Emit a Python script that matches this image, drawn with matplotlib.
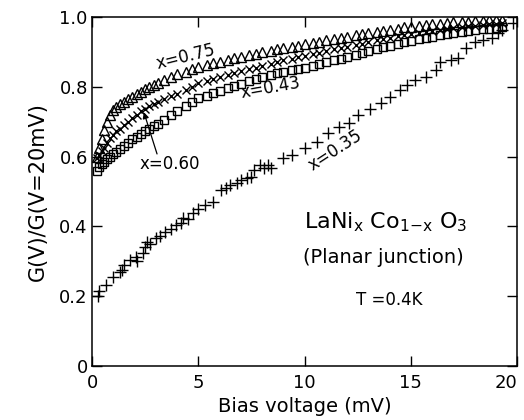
import numpy as np
import matplotlib
matplotlib.use('Agg')  # no display
import matplotlib.pyplot as plt

# bias voltage grid (mV) shared by the three upper curves
bias = [0.25, 0.35, 0.45, 0.55, 0.7, 0.85, 1.0, 1.15, 1.3, 1.5, 1.7, 1.9, 2.1, 2.3,
        2.5, 2.7, 2.9, 3.1, 3.4, 3.7, 4.0, 4.4, 4.7,
        5.0, 5.4, 5.7, 6.0, 6.4, 6.7, 7.0, 7.4, 7.7, 8.0, 8.4, 8.7, 9.0, 9.4, 9.7,
        10.0, 10.4, 10.7, 11.0, 11.4, 11.7, 12.0, 12.4, 12.7, 13.0, 13.4, 13.7,
        14.0, 14.4, 14.7, 15.0, 15.4, 15.7, 16.0, 16.4, 16.7, 17.0, 17.4, 17.7,
        18.0, 18.4, 18.7, 19.0, 19.3]

# x = 0.75 (triangles)
g075 = [0.60, 0.625, 0.65, 0.675, 0.70, 0.72, 0.733, 0.743, 0.75, 0.757, 0.765,
        0.772, 0.779, 0.786, 0.793, 0.80, 0.806, 0.812, 0.82,
        0.828, 0.836, 0.843, 0.85, 0.856, 0.862, 0.867, 0.872, 0.877, 0.882, 0.886,
        0.891, 0.895, 0.899, 0.903, 0.907, 0.911, 0.915, 0.918, 0.922, 0.926, 0.929,
        0.933, 0.937, 0.94, 0.944, 0.948, 0.951, 0.954, 0.958, 0.961, 0.964, 0.967,
        0.97, 0.972, 0.975, 0.977, 0.979, 0.981, 0.983, 0.985, 0.986, 0.987, 0.988,
        0.989, 0.99, 0.991, 0.992]

# x = 0.43 (crosses)
g043 = [0.595, 0.605, 0.615, 0.625, 0.64, 0.652, 0.662, 0.672, 0.68, 0.69, 0.70,
        0.71, 0.72, 0.73, 0.737, 0.744, 0.75, 0.757, 0.765,
        0.773, 0.78, 0.79, 0.80, 0.812, 0.818, 0.823, 0.828, 0.834, 0.839, 0.844,
        0.85, 0.855, 0.86, 0.866, 0.871, 0.876, 0.881, 0.885, 0.889, 0.894, 0.898,
        0.902, 0.907, 0.911, 0.915, 0.92, 0.924, 0.928, 0.933, 0.937, 0.941, 0.945,
        0.948, 0.951, 0.954, 0.957, 0.96, 0.963, 0.966, 0.968, 0.971, 0.973, 0.975,
        0.977, 0.979, 0.98, 0.982]

# x = 0.60 (squares)
g060 = [0.56, 0.57, 0.578, 0.585, 0.592, 0.60, 0.607, 0.614, 0.621, 0.63, 0.64,
        0.649, 0.657, 0.665, 0.672, 0.68, 0.687, 0.694, 0.705,
        0.718, 0.73, 0.745, 0.757, 0.767, 0.775, 0.782, 0.789, 0.797, 0.803, 0.809,
        0.816, 0.822, 0.828, 0.834, 0.839, 0.843, 0.848, 0.851, 0.855, 0.86, 0.865,
        0.87, 0.876, 0.881, 0.886, 0.892, 0.897, 0.902, 0.908, 0.913, 0.918, 0.923,
        0.927, 0.932, 0.936, 0.94, 0.944, 0.948, 0.951, 0.954, 0.957, 0.96, 0.962,
        0.965, 0.967, 0.969, 0.971]

# x = 0.35 (plus signs)
bias035 = [0.3, 0.35, 0.65, 1.0, 1.3, 1.4, 1.5, 1.8, 2.05, 2.1, 2.4, 2.5, 2.6, 2.75,
           3.0, 3.2, 3.45, 3.7, 3.95, 4.2, 4.3, 4.5, 4.75, 5.0, 5.3, 5.7, 6.05, 6.3,
           6.5, 6.8, 7.0, 7.3, 7.5, 7.6, 7.9, 8.1, 8.3, 8.4,
           9.0, 9.4, 10.0, 10.6, 11.1, 11.6, 12.1, 12.5, 13.1, 13.6, 14.0, 14.5,
           14.8, 15.2, 15.7, 16.2, 16.4, 16.9, 17.2, 17.6, 18.0, 18.4, 18.8, 19.1,
           19.3, 19.8]
g035 = [0.2, 0.215, 0.232, 0.255, 0.27, 0.275, 0.29, 0.304, 0.313, 0.3, 0.323, 0.342,
        0.355, 0.35, 0.366, 0.372, 0.384, 0.393, 0.404, 0.41, 0.424, 0.42, 0.438,
        0.45, 0.46, 0.47, 0.504, 0.51, 0.519, 0.525, 0.533, 0.54, 0.542, 0.562,
        0.576, 0.567, 0.575, 0.567,
        0.596, 0.605, 0.625, 0.642, 0.668, 0.685, 0.696, 0.72, 0.735, 0.753, 0.77,
        0.79, 0.805, 0.82, 0.828, 0.848, 0.871, 0.877, 0.883, 0.91, 0.928, 0.934,
        0.94, 0.954, 0.963, 0.983]

x_ticks = [0, 5, 10, 15, 20]
y_ticks = [0, 0.2, 0.4, 0.6, 0.8, 1.0]
y_ticklabels = ['0', '0.2', '0.4', '0.6', '0.8', '1.0']

fig = plt.figure(figsize=(5.24, 4.2), dpi=100)
ax = fig.add_axes([92 / 524, 54 / 420, 425 / 524, 349 / 420])

style = dict(linestyle='none', color='k', markerfacecolor='none', markeredgewidth=1.0)
ax.plot(bias, g075, marker='^', markersize=7, **style)
ax.plot(bias, g043, marker='x', markersize=5.5, **style)
ax.plot(bias, g060, marker='s', markersize=6, **style)
ax.plot(bias035, g035, marker='+', markersize=8, **style)

ax.set_xlim(0, 20)
ax.set_ylim(0, 1.0)
ax.set_xticks(x_ticks)
ax.set_yticks(y_ticks)
ax.set_yticklabels(y_ticklabels)
ax.tick_params(direction='in', length=7, width=1, top=True, right=True,
               labelsize=13)
ax.tick_params(axis='x', pad=6)
ax.tick_params(axis='y', pad=3)
# last x label sits flush with the right frame
ax.get_xticklabels()[-1].set_horizontalalignment('right')
for sp in ax.spines.values():
    sp.set_linewidth(1.1)

ax.set_xlabel('Bias voltage (mV)', fontsize=14, labelpad=3)
ax.set_ylabel('G(V)/G(V=20mV)', fontsize=15, labelpad=8)

# curve labels
ax.text(4.4, 0.885, 'x=0.75', fontsize=12, rotation=14, ha='center', va='center')
ax.text(8.4, 0.797, 'x=0.43', fontsize=12, rotation=10, ha='center', va='center')
ax.text(11.45, 0.619, 'x=0.35', fontsize=12, rotation=33, ha='center', va='center')
ax.text(3.66, 0.578, 'x=0.60', fontsize=12, ha='center', va='center')
ax.annotate('', xy=(2.4, 0.735), xytext=(3.1, 0.60),
            arrowprops=dict(arrowstyle='-|>', color='k', lw=0.9, mutation_scale=9))

ax.text(13.8, 0.413, r'LaNi$_{\mathregular{x}}$ Co$_{\mathregular{1{-}x}}$ O$_{\mathregular{3}}$',
        fontsize=16, ha='center', va='center')
ax.text(13.7, 0.31, '(Planar junction)', fontsize=14, ha='center', va='center')
ax.text(14.0, 0.19, 'T =0.4K', fontsize=12, ha='center', va='center')

fig.savefig('out.png', dpi=100)
